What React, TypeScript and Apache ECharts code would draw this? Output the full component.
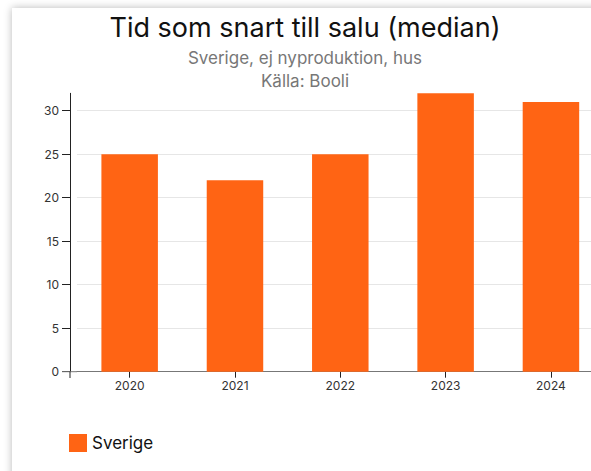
import React, { useEffect, useRef } from "react";
import * as echarts from "echarts";

const categories = ["2020", "2021", "2022", "2023", "2024"];
const sverigeValues = [25, 22, 25, 32, 31];
const titleText = "Tid som snart till salu (median)";
const subtitleLine1 = "Sverige, ej nyproduktion, hus";
const subtitleLine2 = "Källa: Booli";
const seriesName = "Sverige";

const FONT = "Inter, 'Noto Sans', sans-serif";

export default function App() {
  const ref = useRef<HTMLDivElement>(null);
  useEffect(() => {
    if (!ref.current) return;
    const chart = echarts.init(ref.current, null, { renderer: "svg" });
    chart.setOption({
      animation: false,
      textStyle: { fontFamily: FONT },
      title: [
        {
          text: titleText,
          left: "center",
          top: 6,
          textStyle: { fontSize: 27, fontWeight: "normal", color: "#111", fontFamily: FONT, lineHeight: 32 },
        },
        {
          text: subtitleLine1,
          left: "center",
          top: 43,
          textStyle: { fontSize: 17, fontWeight: "normal", color: "#777", fontFamily: FONT, lineHeight: 20 },
        },
        {
          text: subtitleLine2,
          left: "center",
          top: 66,
          textStyle: { fontSize: 17, fontWeight: "normal", color: "#777", fontFamily: FONT, lineHeight: 20 },
        },
      ],
      legend: {
        data: [seriesName],
        left: 69,
        top: 434,
        padding: 0,
        icon: "rect",
        itemWidth: 18,
        itemHeight: 18,
        textStyle: { fontSize: 17, color: "#111", fontFamily: FONT },
      },
      grid: { left: 77, right: 6.4, top: 93.3, bottom: 99.3 },
      xAxis: {
        type: "category",
        data: categories,
        axisLine: { show: true, lineStyle: { color: "#777", width: 1 } },
        axisTick: { show: true, alignWithLabel: true, length: 6, lineStyle: { color: "#222" } },
        axisLabel: { fontSize: 12, color: "#333", margin: 8, fontFamily: FONT },
        splitLine: { show: false },
      },
      yAxis: {
        type: "value",
        min: 0,
        max: 32,
        interval: 5,
        offset: 7,
        axisLine: { show: true, lineStyle: { color: "#222", width: 1 } },
        axisTick: { show: true, length: 8, lineStyle: { color: "#222" } },
        axisLabel: { fontSize: 12, color: "#333", margin: 11, showMaxLabel: false, fontFamily: FONT },
        splitLine: { show: true, showMaxLine: false, showMinLine: false, lineStyle: { color: "#e6e6e6", width: 1 } },
      },
      graphic: [
        { type: "line", shape: { x1: 62, y1: 371.7, x2: 77, y2: 371.7 }, style: { stroke: "#777", lineWidth: 1 }, z: 10 },
        { type: "line", shape: { x1: 70, y1: 371.7, x2: 70, y2: 378 }, style: { stroke: "#222", lineWidth: 1 }, z: 10 },
      ],
      series: [
        {
          name: seriesName,
          type: "bar",
          data: sverigeValues,
          barWidth: 56.5,
          itemStyle: { color: "#ff6414" },
        },
      ],
    });
    return () => chart.dispose();
  }, []);

  return (
    <div style={{ position: "fixed", left: 0, top: 0, width: 591, height: 471, overflow: "hidden", background: "#fff" }}>
      <div
        style={{
          position: "absolute",
          left: 12,
          top: 8,
          width: 700,
          height: 600,
          background: "#fff",
          boxShadow: "0 0 8px rgba(0,0,0,0.28)",
        }}
      />
      <div ref={ref} style={{ position: "absolute", left: 0, top: 0, width: 610, height: 471 }} />
    </div>
  );
}
